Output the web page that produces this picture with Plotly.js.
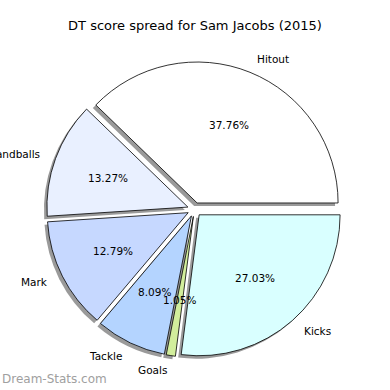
<!DOCTYPE html>
<html>
<head>
<meta charset="utf-8">
<script src="https://cdn.plot.ly/plotly-3.0.1.min.js"></script>
<style>html,body{margin:0;padding:0;background:#fff;}#chart{width:390px;height:390px;}</style>
</head>
<body>
<div id="chart"></div>
<script>
const categories = ["Hitout", "Handballs", "Mark", "Tackle", "Goals", "Kicks"];
const values = [37.76, 13.27, 12.79, 8.09, 1.05, 27.03];
const colors = ["#ffffff", "#e9f0ff", "#c6d8ff", "#b4d4ff", "#d2ee9c", "#d9ffff"];
const explode = [0.05, 0.05, 0.05, 0.05, 0.05, 0.05];

const W = 390, H = 390;
const total = values.reduce((a, b) => a + b, 0);
// first slice starts at 3 o'clock and runs counter-clockwise
const rot = 90 - 360 * values[0] / total;

const dom = {x: [0.1192, 0.8782], y: [0.0833, 0.8423]};
const sh = 3 / W;
const font = "DejaVu Sans, sans-serif";

const base = {
  type: "pie", labels: categories, values: values, sort: false,
  direction: "counterclockwise", rotation: rot, pull: explode,
  hoverinfo: "none", showlegend: false, textinfo: "none"
};

const shadow = Object.assign({}, base, {
  domain: {x: [dom.x[0] - sh, dom.x[1] - sh], y: [dom.y[0] - sh, dom.y[1] - sh]},
  marker: {colors: categories.map(() => "#9a9a9a"), line: {width: 0}}
});

const main = Object.assign({}, base, {
  domain: dom,
  marker: {colors: colors, line: {color: "#000", width: 0.8}}
});

// label / percentage placement derived from the pie geometry (matplotlib style)
const maxPull = Math.max(...explode);
const cx = (dom.x[0] + dom.x[1]) / 2 * W;
const cy = (1 - (dom.y[0] + dom.y[1]) / 2) * H;
const R = Math.min((dom.x[1] - dom.x[0]) * W, (dom.y[1] - dom.y[0]) * H) / (2 * (1 + maxPull));

const annotations = [];
let cum = 0;
values.forEach((v, i) => {
  const mid = (cum + v / 2) / total * 2 * Math.PI;
  cum += v;
  const c = Math.cos(mid), s = Math.sin(mid);
  const px = cx + explode[i] * R * c, py = cy - explode[i] * R * s;
  annotations.push({
    text: (v / total * 100).toFixed(2) + "%",
    xref: "paper", yref: "paper",
    x: (px + 0.6 * R * c) / W, y: 1 - (py - 0.6 * R * s) / H,
    xanchor: "center", yanchor: "middle", showarrow: false,
    font: {family: font, size: 10.5, color: "#000"}
  });
  annotations.push({
    text: categories[i],
    xref: "paper", yref: "paper",
    x: (px + 1.1 * R * c) / W, y: 1 - (py - 1.1 * R * s) / H,
    xanchor: c > 0 ? "left" : "right", yanchor: "middle", showarrow: false,
    font: {family: font, size: 10.5, color: "#000"}
  });
});
annotations.push({
  text: "Dream-Stats.com", xref: "paper", yref: "paper", x: 0, y: 0.005,
  xanchor: "left", yanchor: "bottom", showarrow: false,
  font: {family: font, size: 12, color: "#a0a0a0"}
});

const layout = {
  width: W, height: H,
  margin: {l: 0, r: 0, t: 0, b: 0},
  paper_bgcolor: "#fff",
  title: {text: "DT score spread for Sam Jacobs (2015)", x: 0.5, y: 0.935, xanchor: "center", yanchor: "middle",
          font: {family: font, size: 13, color: "#000"}},
  annotations: annotations
};

Plotly.newPlot("chart", [shadow, main], layout, {displayModeBar: false, staticPlot: true});
</script>
</body>
</html>
